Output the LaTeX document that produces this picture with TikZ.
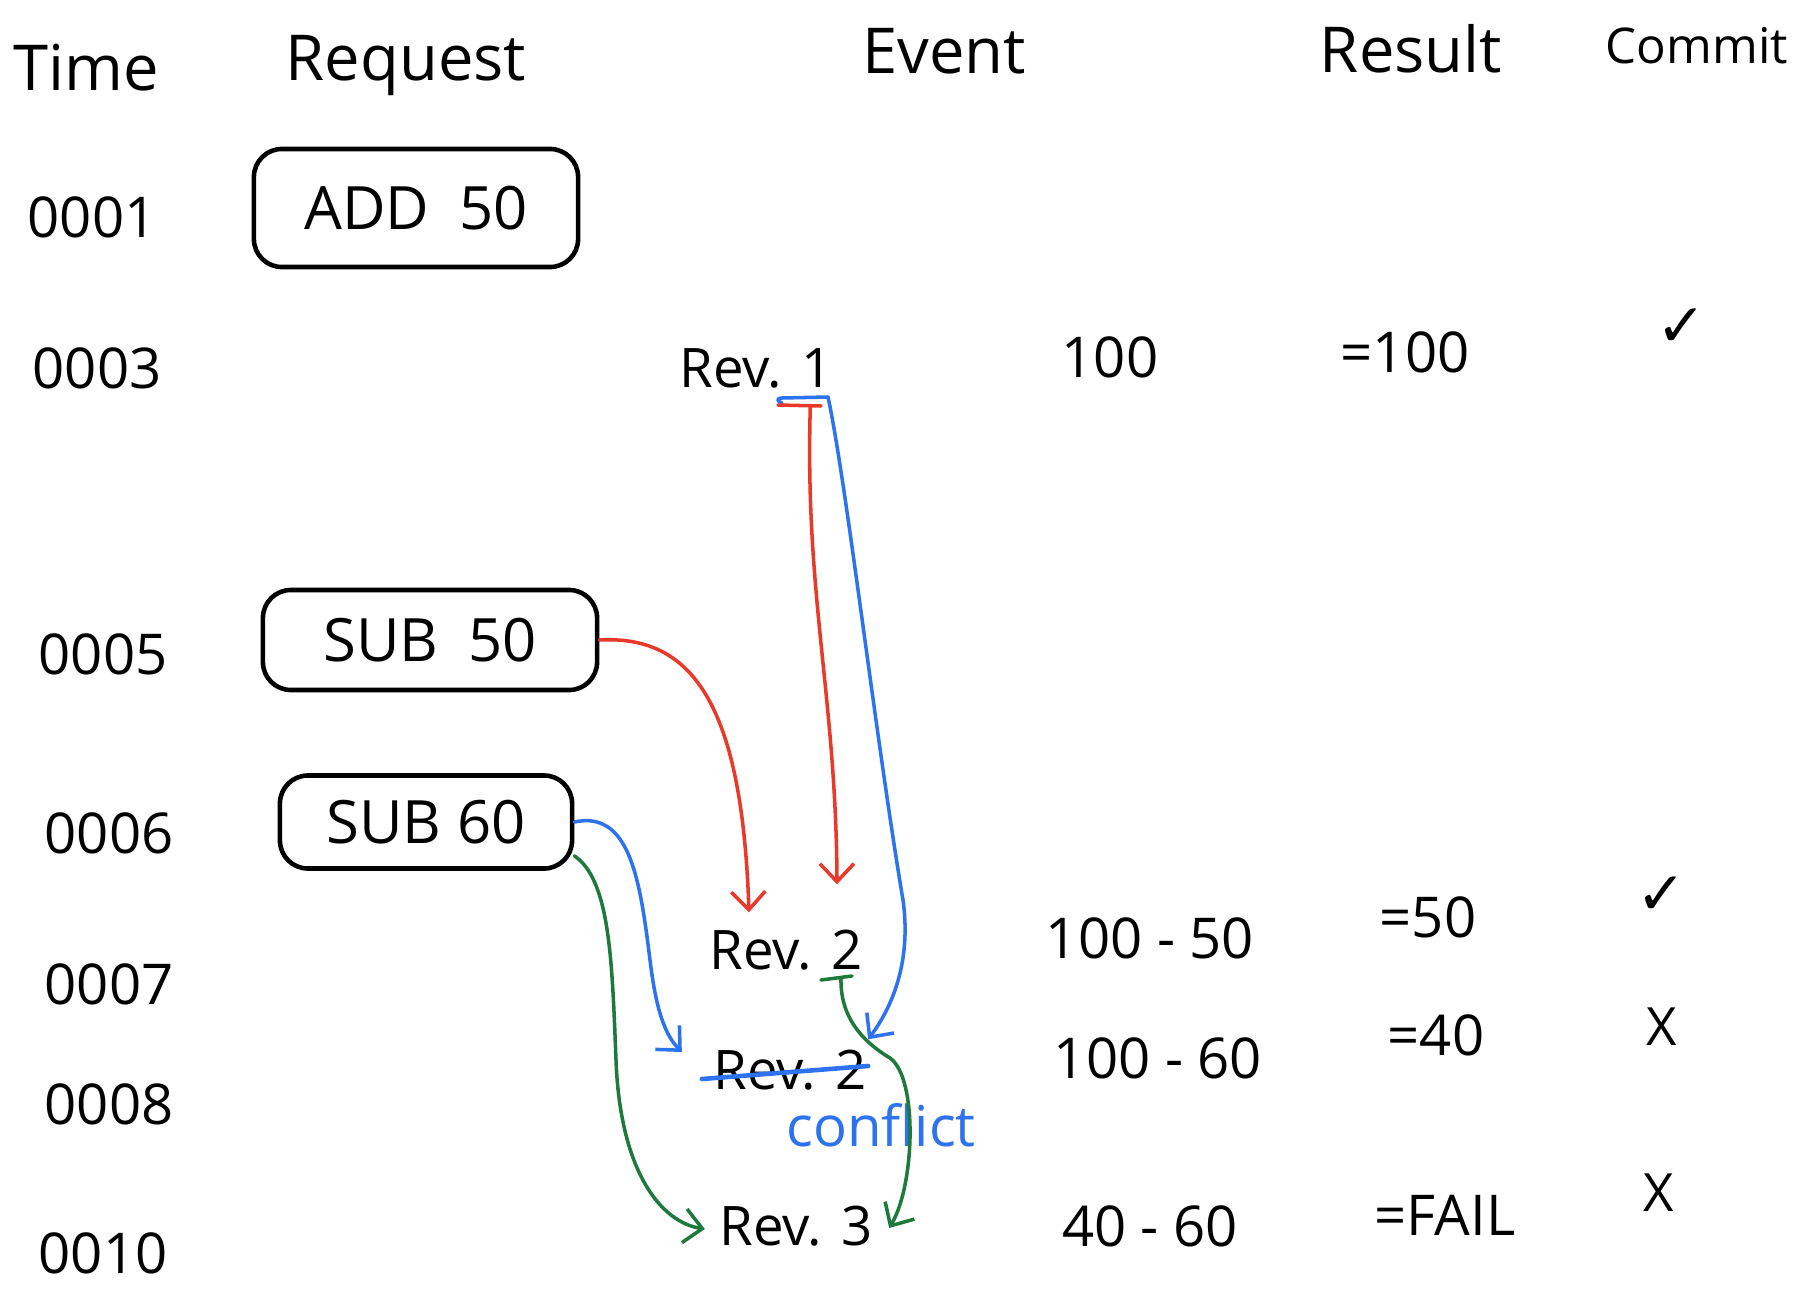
\documentclass[tikz,border=0pt]{standalone}
\usepackage{fontspec}
\setmainfont{Open Sans}
\newfontfamily\symfont{DejaVu Sans}
\usetikzlibrary{arrows.meta}
\definecolor{penred}{HTML}{E8392B}
\definecolor{penblue}{HTML}{2D73F0}
\definecolor{pengreen}{HTML}{1E7A3C}
\begin{document}
\begin{tikzpicture}[x=0.01cm,y=-0.01cm,
  hdr/.style={font=\fontsize{18}{20}\selectfont},
  tlabel/.style={font=\fontsize{16}{18}\selectfont},
  reqbox/.style={draw,line width=1.3pt,rounded corners=0.28cm,inner sep=0pt,font=\fontsize{17}{19}\selectfont},
  rev/.style={font=\fontsize{15.5}{18}\selectfont,minimum width=1.5cm,minimum height=0.7cm,inner sep=0pt},
  val/.style={font=\fontsize{16}{18}\selectfont},
  cmark/.style={font=\symfont\fontsize{17}{19}\selectfont},
  xmark/.style={font=\fontsize{15}{17}\selectfont},
  pen/.style={line width=1pt,line cap=round,line join=round},
  tip/.style={-{Straight Barb[length=1.8mm,width=3.4mm]}},
]
\useasboundingbox (0,0) rectangle (1794,1300);
\fill[white] (0,0) rectangle (1794,1300);

% headers
\node[hdr] (hTime) at (86,68) {Time};
\node[hdr] (hReq) at (406,66) {Request};
\node[hdr] (hEvent) at (944,51) {Event};
\node[hdr] (hResult) at (1411,49) {Result};
\node[hdr,font=\fontsize{14}{16}\selectfont] (hCommit) at (1697,46) {Commit};

% time labels
\node[tlabel] (t1) at (92,217) {0001};
\node[tlabel] (t3) at (97,368) {0003};
\node[tlabel] (t5) at (103,654) {0005};
\node[tlabel] (t6) at (109,833) {0006};
\node[tlabel] (t7) at (109,984) {0007};
\node[tlabel] (t8) at (109,1104) {0008};
\node[tlabel] (t10) at (103,1253) {0010};

% request boxes
\node[reqbox,minimum width=3.24cm,minimum height=1.18cm] (add) at (416,208) {ADD\enspace 50};
\node[reqbox,minimum width=3.34cm,minimum height=1.0cm] (sub50) at (430,640) {SUB\enspace 50};
\node[reqbox,minimum width=2.92cm,minimum height=0.93cm] (sub60) at (426,822) {SUB 60};

% events
\node[rev] (rev1) at (756,368) {Rev. 1};
\node[rev] (rev2) at (786,950) {Rev. 2};
\node[rev] (rev2b) at (790,1070) {Rev. 2};
\node[rev] (rev3) at (796,1226) {Rev. 3};

% values
\node[val] (v1) at (1110,357) {100};
\node[val] (v2) at (1150,938) {100 - 50};
\node[val] (v3) at (1158,1058) {100 - 60};
\node[val] (v4) at (1150,1226) {40 - 60};

% results
\node[val] (r1) at (1405,352) {=100};
\node[val] (r2) at (1428,917) {=50};
\node[val] (r3) at (1436,1035) {=40};
\node[val] (r4) at (1445,1215) {=FAIL};

% commit
\node[cmark] (c1) at (1682,328) {✓};
\node[cmark] (c2) at (1662,896) {✓};
\node[xmark] (c3) at (1662,1027) {X};
\node[xmark] (c4) at (1659,1193) {X};

% conflict label
\node[val,text=penblue] (conf) at (881,1125) {conflict};

% marks under Rev. 1 and Rev. 2
\coordinate (b1s) at (828,397);
\coordinate (r1s) at (810,406);
\coordinate (g2s) at (841,978);
\draw[pen,penblue] (782,403) .. controls (776,401) and (777,398) .. (782,398) -- (b1s);
\draw[pen,penred] (778,405) -- (821,406);
\draw[pen,pengreen] (821,980) -- (852,976);
% strike through second Rev. 2
\path (rev2b.west) ++(-0.11cm,-0.09cm) coordinate (sk1);
\draw[pen,penblue,line width=1.3pt] (sk1) -- ([xshift=0.01cm,yshift=0.04cm]rev2b.east);

% red connectors
\draw[pen,penred,tip] (sub50.east) .. controls (690,635) and (742,700) .. ([xshift=-0.37cm,yshift=0.02cm]rev2.north);
\draw[pen,penred,tip] (r1s) -- (810,418) .. controls (806,600) and (836,700) .. ([xshift=0.51cm,yshift=0.3cm]rev2.north);

% blue connectors
\draw[pen,penblue,tip] (b1s) .. controls (846,480) and (876,740) .. (903,900) .. controls (912,965) and (890,1010) .. ([xshift=0.01cm,yshift=-0.05cm]rev2b.north east);
\draw[pen,penblue,tip] (sub60.east) .. controls (630,810) and (640,880) .. (650,960) .. controls (656,1010) and (665,1035) .. ([xshift=-0.31cm,yshift=0.18cm]rev2b.west);

% green connectors
\draw[pen,pengreen,tip] ([yshift=0.15cm]sub60.south east) .. controls (610,880) and (612,960) .. (616,1060) .. controls (620,1170) and (660,1222) .. ([xshift=-0.14cm,yshift=-0.03cm]rev3.west);
\draw[pen,pengreen,tip] (g2s) .. controls (840,1015) and (860,1040) .. (890,1058) .. controls (918,1078) and (915,1185) .. ([xshift=0.16cm,yshift=-0.02cm]rev3.east);
\end{tikzpicture}
\end{document}
